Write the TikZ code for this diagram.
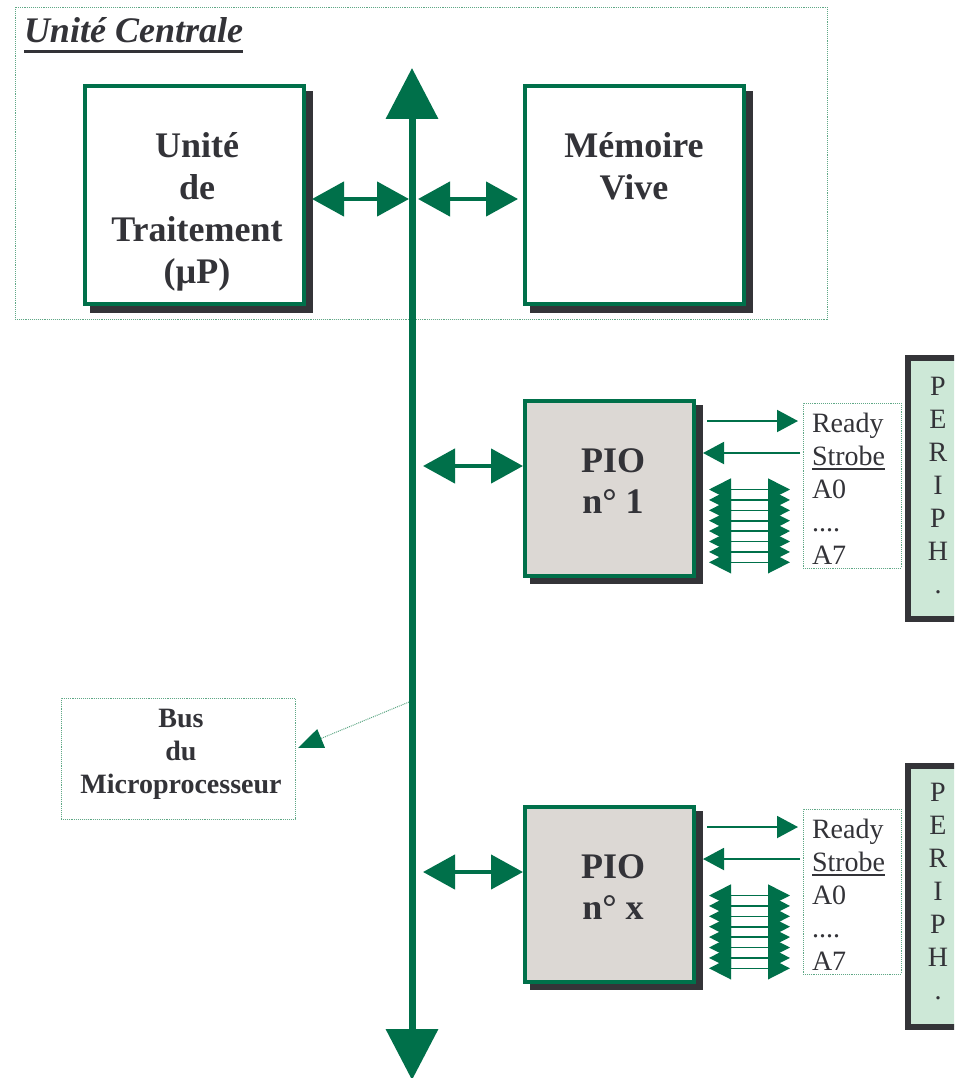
\documentclass[tikz,border=0pt]{standalone}
\usepackage{fontspec}
\setmainfont{Liberation Serif}
\usetikzlibrary{arrows.meta}

\definecolor{busgreen}{HTML}{00704A}
\definecolor{dotgreen}{HTML}{5FA886}
\definecolor{inkdark}{HTML}{333338}
\definecolor{shadowdark}{HTML}{343438}
\definecolor{piogray}{HTML}{DCD8D4}
\definecolor{periphgreen}{HTML}{CDE8D7}

% underline with a chosen depth and thickness
\newcommand\ulbar[3]{\leavevmode\setbox0\hbox{#3}\rlap{\rule[-#1]{\wd0}{#2}}\box0}

\tikzset{
  every node/.style={outer sep=0pt},
  dotframe/.style={draw=dotgreen, line width=0.9pt, densely dotted, inner sep=0pt},
  unitbox/.style={draw=busgreen, line width=4pt, fill=white, inner sep=0pt},
  piobox/.style={draw=busgreen, line width=4pt, fill=piogray, inner sep=0pt},
  periphbox/.style={draw=shadowdark, line width=6pt, fill=periphgreen, inner sep=0pt},
  shade/.style={fill=shadowdark},
  bigtext/.style={text=inkdark, inner sep=0pt, align=center, anchor=base,
    font=\fontsize{36}{42}\selectfont\bfseries},
  smalltext/.style={text=inkdark, inner sep=0pt, anchor=base,
    font=\fontsize{28}{33}\selectfont},
  busline/.style={draw=busgreen, line width=7pt,
    {Triangle[length=51pt,width=51pt]}-{Triangle[length=51pt,width=51pt]}},
  dblarrow/.style={draw=busgreen, line width=4.5pt,
    {Triangle[length=32pt,width=34pt]}-{Triangle[length=32pt,width=34pt]}},
  sigarrow/.style={draw=busgreen, line width=2pt, -{Triangle[length=21pt,width=22pt]}},
  pinline/.style={draw=busgreen, line width=1.6pt,
    {Triangle[length=22pt,width=22pt]}-{Triangle[length=22pt,width=22pt]}},
  pointer/.style={draw=dotgreen, line width=1pt, densely dotted,
    -{Triangle[length=25pt,width=20pt,color=busgreen]}},
}

\begin{document}
\begin{tikzpicture}[x=1pt,y=-1pt]
\clip (0,0) rectangle (954,1078);
\fill[white] (0,0) rectangle (954,1078);

% central unit frame and title
\node[dotframe, minimum width=812pt, minimum height=312pt, anchor=north west] (uc) at (15,7) {};
\node[text=inkdark, inner sep=0pt, anchor=base west,
      font=\fontsize{36}{40}\selectfont\bfseries\itshape] (title) at (24,43)
      {\ulbar{10pt}{3pt}{Unité Centrale}};

% shadows of the boxes
\fill[shade] (90,91) rectangle (313,313);
\fill[shade] (530,91) rectangle (753,313);
\fill[shade] (530,405) rectangle (703,584);
\fill[shade] (530,811) rectangle (703,990);

% processing unit and memory
\node[unitbox, minimum width=219pt, minimum height=218pt] (ut) at (194.5,195) {};
\node[unitbox, minimum width=219pt, minimum height=218pt] (mv) at (634.5,195) {};
% multi-line texts are placed by the baseline of their last line
\node[bigtext] (uttext) at (197,283) {Unité\\de\\Traitement\\(µP)};
\node[bigtext] (mvtext) at (634,200) {Mémoire\\Vive};

% parallel I/O circuits
\node[piobox, minimum width=169pt, minimum height=175pt] (pio1) at (609.5,488.5) {};
\node[piobox, minimum width=169pt, minimum height=175pt] (piox) at (609.5,894.5) {};
\node[bigtext, font=\fontsize{36}{41}\selectfont\bfseries] (pio1text) at (613,513) {PIO\\n° 1};
\node[bigtext, font=\fontsize{36}{41}\selectfont\bfseries] (piotextx) at (613,919) {PIO\\n° x};

% signal name boxes
\node[dotframe, minimum width=98pt, minimum height=165pt] (lb1) at (852,485.5) {};
\node[dotframe, minimum width=98pt, minimum height=165pt] (lbx) at (852,891.5) {};
\node[smalltext, anchor=base west, align=left] (sig1) at (812,564)
  {Ready\\\ulbar{5pt}{2pt}{Strobe}\\A0\\....\\A7};
\node[smalltext, anchor=base west, align=left] (sigx) at (812,970)
  {Ready\\\ulbar{5pt}{2pt}{Strobe}\\A0\\....\\A7};

% peripherals
\node[periphbox, minimum width=62pt, minimum height=261pt, anchor=north west] (per1) at (908,358) {};
\node[periphbox, minimum width=62pt, minimum height=261pt, anchor=north west] (perx) at (908,766) {};
\node[smalltext, align=center] (per1text) at (938,593) {P\\E\\R\\I\\P\\H\\.};
\node[smalltext, align=center] (perxtext) at (938,999) {P\\E\\R\\I\\P\\H\\.};

% microprocessor bus
\coordinate (bt) at (412,68);
\coordinate (bb) at (412,1080);
\draw[busline] (bt) -- (bb);
\coordinate (bu) at (409,199);
\coordinate (bv) at (418,199);
\coordinate (b1) at (423,466);
\coordinate (bx) at (423,872);
\coordinate (bp) at (409,702);

\draw[dblarrow] ([xshift=8pt]ut.east |- bu) -- (bu);
\draw[dblarrow] (bv) -- ([xshift=-7pt]mv.west |- bv);
\draw[dblarrow] (b1) -- ([xshift=-2pt]pio1.west |- b1);
\draw[dblarrow] (bx) -- ([xshift=-2pt]piox.west |- bx);

% bus label
\node[dotframe, minimum width=234pt, minimum height=121pt] (bl) at (178,758.5) {};
\node[smalltext, align=center, font=\fontsize{28}{33}\selectfont\bfseries] (bltext) at (181,793)
  {Bus\\du\\Microprocesseur};
\draw[pointer] (bp) -- ([shift={(3pt,10.5pt)}]bl.east);

% handshake and data lines
\foreach \p/\l in {pio1/lb1, piox/lbx}{
  \draw[sigarrow] ([shift={(13pt,-20pt)}]\p.north east) -- ([shift={(-5pt,-18pt)}]\l.north west);
  \draw[sigarrow] ([shift={(-3pt,-50pt)}]\l.north west) -- ([shift={(9pt,-52pt)}]\p.north east);
  \foreach \i in {0,...,7}{
    \draw[pinline] ([shift={(15pt,-88.5pt-10.4pt*\i)}]\p.north east)
      -- ([shift={(96pt,-88.5pt-10.4pt*\i)}]\p.north east);
  }
}
\end{tikzpicture}
\end{document}
